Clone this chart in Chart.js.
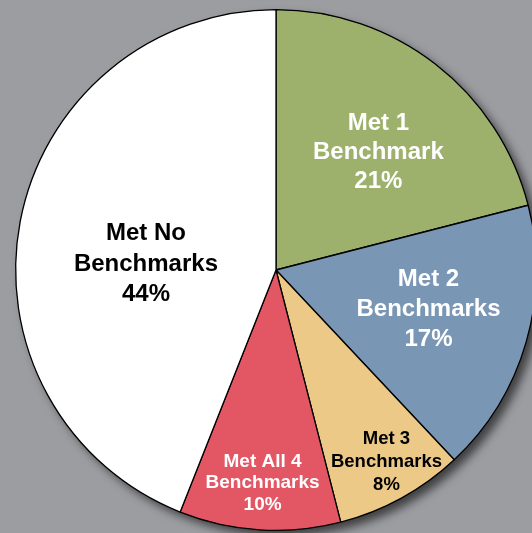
<!DOCTYPE html>
<html>
<head>
    <title>Benchmarks</title>
    <script src="https://cdn.jsdelivr.net/npm/chart.js"></script>
    <style>
        html, body {
            margin: 0;
            padding: 0;
            background: #9c9da1;
            overflow: hidden;
        }
        #chartContainer {
            position: absolute;
            left: 0;
            top: 0;
            width: 552px;
            height: 552px;
        }
    </style>
</head>
<body>

    <div id="chartContainer">
        <canvas id="myChart"></canvas>
    </div>

    <script>
      // данные
      const categories = ['Met 1 Benchmark', 'Met 2 Benchmarks', 'Met 3 Benchmarks', 'Met All 4 Benchmarks', 'Met No Benchmarks'];
      const percents = [21, 17, 8, 10, 44];
      const labelLines = [
          ['Met 1', 'Benchmark', '21%'],
          ['Met 2', 'Benchmarks', '17%'],
          ['Met 3', 'Benchmarks', '8%'],
          ['Met All 4', 'Benchmarks', '10%'],
          ['Met No', 'Benchmarks', '44%']
      ];

      // оформление подписей
      const sliceColors = ['#9db16c', '#7996b4', '#ecc987', '#e35664', '#ffffff'];
      const textColors = ['#ffffff', '#ffffff', '#000000', '#ffffff', '#000000'];
      const labelRadius = [0.60, 0.605, 0.85, 0.82, 0.50];
      const labelAngleShift = [0.055, -0.03, -0.02, 0, -0.145];
      const labelFont = [24, 24, 18.5, 19, 24];
      const labelLineHeight = [29, 30, 23, 21.5, 30.5];

      const shadowPlugin = {
          id: 'shadow',
          beforeDatasetsDraw(chart) {
              const arc = chart.getDatasetMeta(0).data[0];
              const ctx = chart.ctx;
              ctx.save();
              ctx.shadowColor = 'rgba(0,0,0,0.6)';
              ctx.shadowBlur = 10;
              ctx.shadowOffsetX = 6;
              ctx.shadowOffsetY = 6;
              ctx.fillStyle = '#000';
              ctx.beginPath();
              ctx.arc(arc.x, arc.y, arc.outerRadius, 0, Math.PI * 2);
              ctx.fill();
              ctx.restore();
          }
      };

      const labelPlugin = {
          id: 'sliceLabels',
          afterDatasetsDraw(chart) {
              const ctx = chart.ctx;
              const meta = chart.getDatasetMeta(0);
              meta.data.forEach((arc, i) => {
                  const mid = (arc.startAngle + arc.endAngle) / 2 + labelAngleShift[i];
                  const r = arc.outerRadius * labelRadius[i];
                  const cx = arc.x + Math.cos(mid) * r;
                  const cy = arc.y + Math.sin(mid) * r;
                  const lines = labelLines[i];
                  const lh = labelLineHeight[i];
                  ctx.save();
                  ctx.font = 'bold ' + labelFont[i] + 'px "Liberation Sans", Arial, sans-serif';
                  ctx.fillStyle = textColors[i];
                  ctx.textAlign = 'center';
                  ctx.textBaseline = 'middle';
                  lines.forEach((t, k) => {
                      ctx.fillText(t, cx, cy + (k - (lines.length - 1) / 2) * lh);
                  });
                  ctx.restore();
              });
          }
      };

      const myChart = new Chart(document.getElementById('myChart'), {
          type: 'pie',
          data: {
              labels: categories,
              datasets: [{
                  data: percents,
                  backgroundColor: sliceColors,
                  borderColor: '#000000',
                  borderWidth: 1.3
              }]
          },
          options: {
              responsive: true,
              maintainAspectRatio: false,
              animation: false,
              layout: {
                  padding: { left: 15, top: 9, right: 15, bottom: 21 }
              },
              plugins: {
                  legend: { display: false },
                  tooltip: { enabled: false }
              }
          },
          plugins: [shadowPlugin, labelPlugin]
      });
  </script>

</body>
</html>
